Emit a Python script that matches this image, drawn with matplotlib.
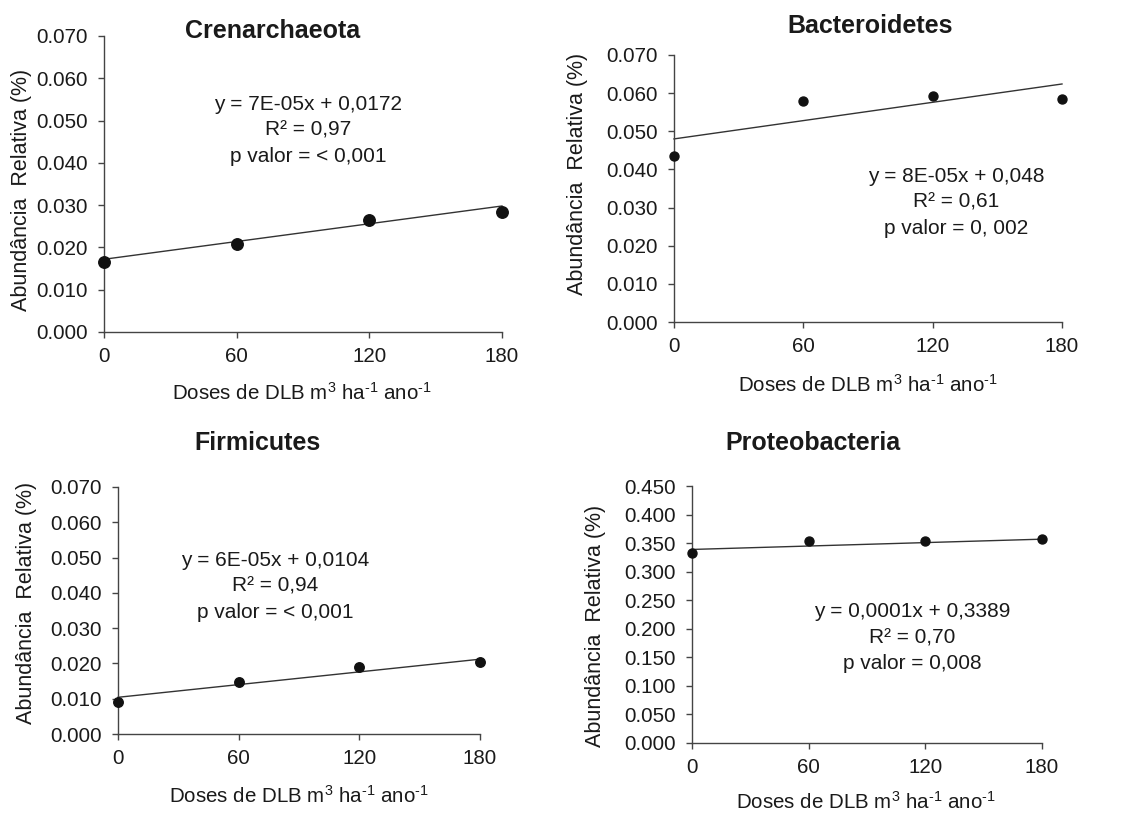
import numpy as np
import matplotlib
matplotlib.use("Agg")
import matplotlib.pyplot as plt

plt.rcParams["font.family"] = ["Liberation Sans", "DejaVu Sans"]
plt.rcParams["mathtext.fontset"] = "custom"
plt.rcParams["mathtext.rm"] = "Liberation Sans"
plt.rcParams["mathtext.it"] = "Liberation Sans:italic"
plt.rcParams["mathtext.bf"] = "Liberation Sans:bold"

# doses (x) shared by all panels
doses = [0, 60, 120, 180]

# panel data
titles = ["Crenarchaeota", "Bacteroidetes", "Firmicutes", "Proteobacteria"]
crenarchaeota = [0.0166, 0.0207, 0.0265, 0.0283]
bacteroidetes = [0.0434, 0.0580, 0.0593, 0.0584]
firmicutes = [0.0091, 0.0147, 0.0191, 0.0204]
proteobacteria = [0.3319, 0.3539, 0.3534, 0.3564]

# fitted lines as printed on the chart
slopes = [7e-05, 8e-05, 6e-05, 0.0001]
intercepts = [0.0172, 0.048, 0.0104, 0.3389]

equations = ["y = 7E-05x + 0,0172", "y = 8E-05x + 0,048",
             "y = 6E-05x + 0,0104", "y = 0,0001x + 0,3389"]
r2_labels = ["R² = 0,97", "R² = 0,61", "R² = 0,94", "R² = 0,70"]
p_labels = ["p valor = < 0,001", "p valor = 0, 002",
            "p valor = < 0,001", "p valor = 0,008"]

y_max = [0.070, 0.070, 0.070, 0.450]
y_step = [0.010, 0.010, 0.010, 0.050]

series = [crenarchaeota, bacteroidetes, firmicutes, proteobacteria]

W, H = 1131, 814
fig = plt.figure(figsize=(W / 100, H / 100), dpi=100)


def fx(px):
    return px / W


def fy(py):
    return 1 - py / H


# layout in pixels: left, right, top, bottom of each plot area
boxes = [(104, 502, 36, 332), (674, 1062, 55, 322),
         (118, 480, 487, 734), (692, 1042, 486, 743)]
title_pos = [(273, 38), (870, 33), (257, 450), (813, 450)]
note_pos = [(308, 110), (956, 182), (275, 566), (912, 617)]
xlab_pos = [(302, 400), (868, 392), (299, 803), (866, 809)]
ylab_pos = [(22, 190), (577, 174), (27, 603), (595, 626)]
marker_size = [11.5, 9, 9.5, 9]

line_gap = 26
xlabel = r"Doses de DLB m$^{3}$ ha$^{\text{-}1}$ ano$^{\text{-}1}$"

for i in range(4):
    l, r, t, b = boxes[i]
    ax = fig.add_axes([fx(l), fy(b), fx(r - l), (b - t) / H])
    ax.scatter(doses, series[i], s=(marker_size[i] * 0.72) ** 2,
               color="#111111", zorder=3, clip_on=False)
    xs = np.array([doses[0], doses[-1]])
    ax.plot(xs, slopes[i] * xs + intercepts[i], color="#333333", lw=1.0,
            clip_on=False)

    ax.set_xlim(0, 180)
    ax.set_ylim(0, y_max[i])
    ax.set_xticks(doses)
    yt = np.arange(0, y_max[i] + y_step[i] / 2, y_step[i])
    ax.set_yticks(yt)
    ax.set_yticklabels([f"{v:.3f}" for v in yt])
    for s in ["top", "right"]:
        ax.spines[s].set_visible(False)
    for s in ["left", "bottom"]:
        ax.spines[s].set_color("#444444")
        ax.spines[s].set_linewidth(1.0)
    ax.tick_params(axis="both", direction="out", length=4.3, width=1.0,
                   color="#444444", labelsize=14.8, labelcolor="#1a1a1a")
    ax.tick_params(axis="y", pad=7.5)
    ax.tick_params(axis="x", pad=6.5)

    tx, ty = title_pos[i]
    fig.text(fx(tx), fy(ty), titles[i], ha="center", va="baseline",
             fontsize=18, fontweight="bold", color="#1a1a1a")

    nx, ny = note_pos[i]
    for k, txt in enumerate([equations[i], r2_labels[i], p_labels[i]]):
        fig.text(fx(nx), fy(ny + k * line_gap), txt, ha="center",
                 va="baseline", fontsize=15, color="#1a1a1a")

    lx, ly = xlab_pos[i]
    fig.text(fx(lx), fy(ly), xlabel,
             ha="center", va="baseline", fontsize=14.8, color="#1a1a1a")

    yx, yy = ylab_pos[i]
    fig.text(fx(yx), fy(yy), "Abundância  Relativa (%)", rotation=90,
             ha="center", va="center", fontsize=15.5, color="#1a1a1a")

fig.savefig("out.png", dpi=100, facecolor="white")
